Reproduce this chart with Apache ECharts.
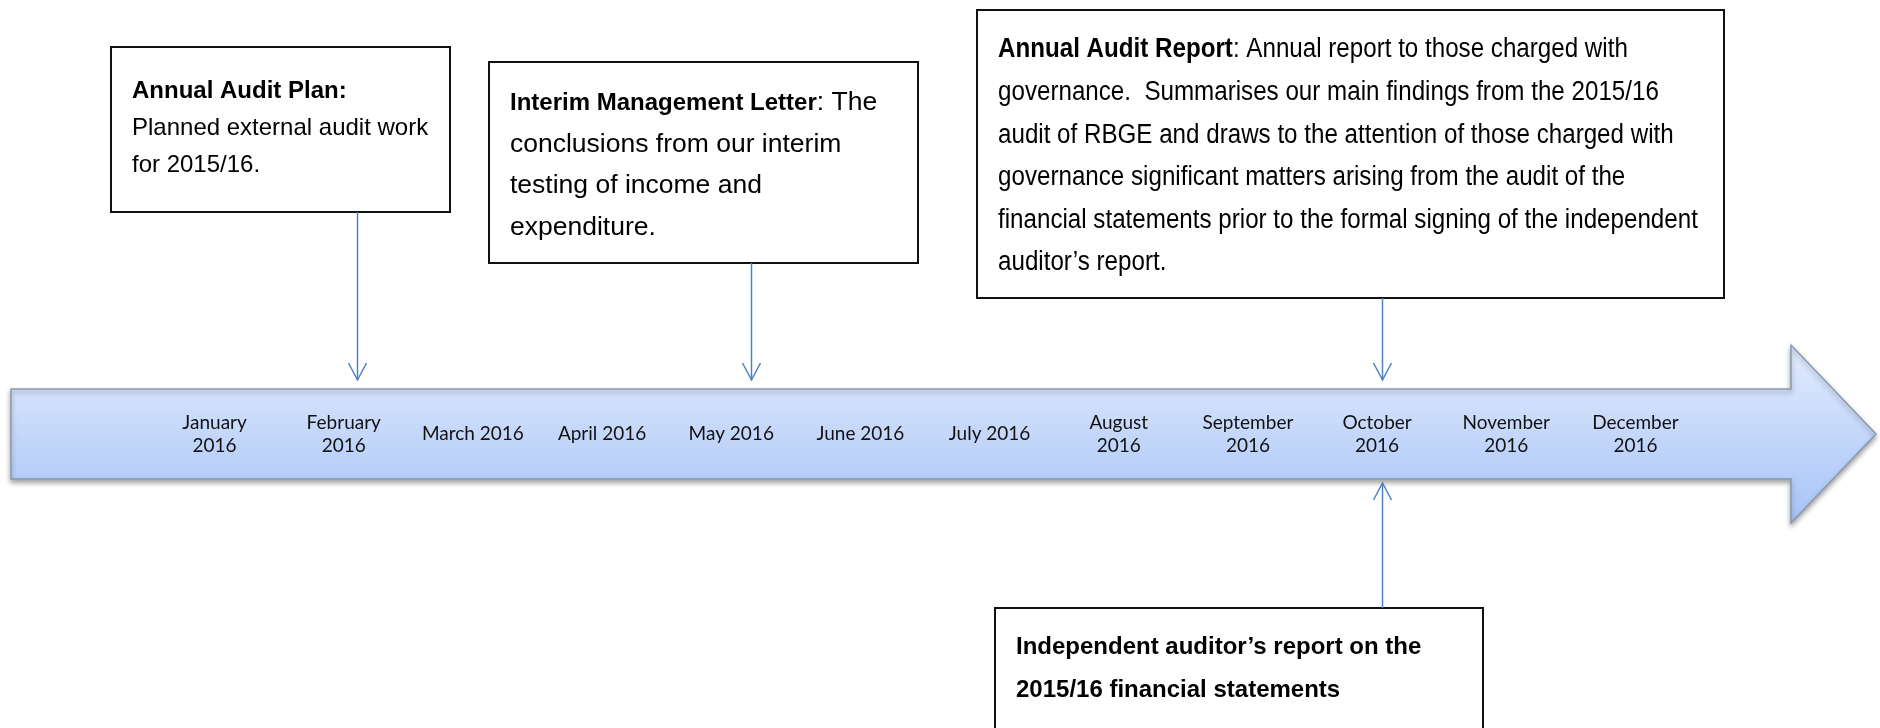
<!DOCTYPE html>
<html>
<head>
<meta charset="utf-8">
<title>Audit timeline 2016</title>
<script src="https://cdn.jsdelivr.net/npm/echarts@6/dist/echarts.min.js"></script>
<style>
  html, body { margin: 0; padding: 0; background: #fff; }
  #chart { width: 1880px; height: 728px; }
</style>
</head>
<body>
<div id="chart"></div>
<script>
// months shown inside the timeline arrow
const months = [
  'January\n2016', 'February\n2016', 'March 2016', 'April 2016',
  'May 2016', 'June 2016', 'July 2016', 'August\n2016',
  'September\n2016', 'October\n2016', 'November\n2016', 'December\n2016'
];

// where each deliverable points on the month scale (1 = January)
const eventMonths = [2.1, 5.15, 10.04, 10.04];
const eventSides = ['above', 'above', 'above', 'below'];
const eventLabels = [
  '{b|Annual Audit Plan:}\nPlanned external audit work\nfor 2015/16.',
  '{b|Interim Management Letter}: The\nconclusions from our interim\ntesting of income and\nexpenditure.',
  '{b|Annual Audit Report}: Annual report to those charged with\n' +
    'governance.  Summarises our main findings from the 2015/16\n' +
    'audit of RBGE and draws to the attention of those charged with\n' +
    'governance significant matters arising from the audit of the\n' +
    'financial statements prior to the formal signing of the independent\n' +
    'auditor\u2019s report.',
  '{b|Independent auditor\u2019s report on the}\n{b|2015/16 financial statements}'
];

// layout of the text boxes (pixels)
const boxes = [
  { left: 111, top: 47, width: 339, height: 165, textLeft: 132, firstLine: 91, fontSize: 24, boldSize: 24, lineHeight: 37, scaleX: 1 },
  { left: 489, top: 62, width: 429, height: 201, textLeft: 510, firstLine: 103, fontSize: 26.5, boldSize: 24, lineHeight: 41.5, scaleX: 1 },
  { left: 977, top: 10, width: 747, height: 288, textLeft: 998, firstLine: 50, fontSize: 27, boldSize: 27, lineHeight: 42.6, scaleX: 0.895 },
  { left: 995, top: 608, width: 488, height: 140, textLeft: 1016, firstLine: 647, fontSize: 24, boldSize: 24, lineHeight: 43, scaleX: 1 }
];

const BODY_TOP = 389;
const BODY_BOTTOM = 479;
const ARROW_BLUE = '#4f81bd';
const BOX_FONT = '"Liberation Sans", Arial, sans-serif';

const chart = echarts.init(document.getElementById('chart'));

function renderEvent(params, api) {
  const i = params.dataIndex;
  const b = boxes[i];
  const x = Math.round(api.coord([api.value(0), 0])[0]) + 0.5;
  const above = eventSides[i] === 'above';
  const y0 = above ? b.top + b.height : b.top;
  const tip = above ? BODY_TOP - 9 : BODY_BOTTOM + 4;
  const d = above ? -17 : 17;
  return {
    type: 'group',
    children: [
      {
        type: 'rect',
        shape: { x: b.left, y: b.top, width: b.width, height: b.height },
        style: { fill: '#fff', stroke: '#111', lineWidth: 2 }
      },
      {
        type: 'text',
        x: b.textLeft,
        y: b.firstLine - b.lineHeight / 2,
        scaleX: b.scaleX,
        style: {
          text: eventLabels[i],
          fill: '#000',
          fontFamily: BOX_FONT,
          fontSize: b.fontSize,
          lineHeight: b.lineHeight,
          align: 'left',
          verticalAlign: 'top',
          rich: {
            b: { fontWeight: 'bold', fontFamily: BOX_FONT, fontSize: b.boldSize, lineHeight: b.lineHeight, fill: '#000' }
          }
        }
      },
      {
        type: 'line',
        shape: { x1: x, y1: y0, x2: x, y2: tip },
        style: { stroke: ARROW_BLUE, lineWidth: 1.5 }
      },
      {
        type: 'polyline',
        shape: { points: [[x - 9, tip + d], [x, tip], [x + 9, tip + d]] },
        style: { stroke: ARROW_BLUE, lineWidth: 1.5, fill: null }
      }
    ]
  };
}

chart.setOption({
  animation: false,
  backgroundColor: '#fff',
  grid: { left: 150, right: 180, top: BODY_TOP, height: BODY_BOTTOM - BODY_TOP },
  graphic: [{
    type: 'polygon',
    z: -1,
    shape: {
      points: [[11, BODY_TOP], [1791, BODY_TOP], [1791, 345], [1876, 434],
               [1791, 523], [1791, BODY_BOTTOM], [11, BODY_BOTTOM]]
    },
    style: {
      fill: {
        type: 'linear', x: 0, y: 0, x2: 0, y2: 1,
        colorStops: [{ offset: 0, color: '#e3ecfd' }, { offset: 1, color: '#a6c3f7' }]
      },
      stroke: '#8a99b0',
      lineWidth: 1.5,
      shadowBlur: 5,
      shadowOffsetY: 3,
      shadowColor: 'rgba(0,0,0,0.35)'
    }
  }],
  xAxis: [{
    type: 'category',
    data: months,
    z: 5,
    axisLine: { show: false },
    axisTick: { show: false },
    splitLine: { show: false },
    axisLabel: {
      inside: true,
      interval: 0,
      margin: 45,
      verticalAlign: 'middle',
      align: 'center',
      color: '#111',
      fontFamily: 'Lato, "Open Sans", sans-serif',
      fontSize: 19,
      lineHeight: 23
    }
  }, {
    type: 'value',
    min: 0.5,
    max: 12.5,
    show: false
  }],
  yAxis: { type: 'value', min: 0, max: 1, show: false },
  series: [{
    type: 'custom',
    xAxisIndex: 1,
    yAxisIndex: 0,
    clip: false,
    z: 3,
    renderItem: renderEvent,
    data: eventMonths.map(m => [m, 0])
  }]
});
</script>
</body>
</html>
